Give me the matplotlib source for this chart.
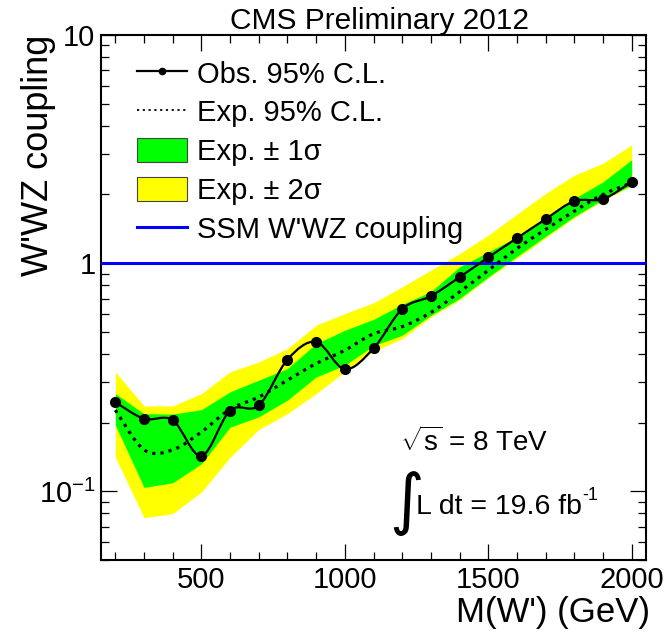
import numpy as np
import matplotlib
matplotlib.use('Agg')
import matplotlib.pyplot as plt
from matplotlib.path import Path
from matplotlib.patches import PathPatch, Patch
from matplotlib.lines import Line2D
from matplotlib.ticker import FixedLocator, FixedFormatter, MultipleLocator, LogLocator, NullFormatter

plt.rcParams['font.family'] = ['Liberation Sans', 'DejaVu Sans']
plt.rcParams['mathtext.fontset'] = 'custom'
plt.rcParams['mathtext.rm'] = 'Liberation Sans'
plt.rcParams['mathtext.it'] = 'Liberation Sans'
plt.rcParams['mathtext.sf'] = 'Liberation Sans'

# ---------------- data ----------------
mass = [200, 300, 400, 500, 600, 700, 800, 900, 1000, 1100,
        1200, 1300, 1400, 1500, 1600, 1700, 1800, 1900, 2000]
obs = [0.246, 0.208, 0.205, 0.143, 0.226, 0.238, 0.378, 0.452, 0.343, 0.423,
       0.630, 0.717, 0.868, 1.06, 1.287, 1.56, 1.87, 1.91, 2.27]
exp_med = [0.227, 0.152, 0.152, 0.182, 0.229, 0.259, 0.307, 0.363, 0.415, 0.490,
           0.527, 0.608, 0.748, 0.930, 1.16, 1.405, 1.69, 2.00, 2.25]
exp_m1 = [0.195, 0.104, 0.109, 0.132, 0.191, 0.212, 0.251, 0.317, 0.357, 0.435,
          0.483, 0.590, 0.700, 0.870, 1.07, 1.31, 1.60, 1.90, 2.20]
exp_p1 = [0.268, 0.219, 0.218, 0.228, 0.273, 0.307, 0.345, 0.444, 0.508, 0.567,
          0.660, 0.750, 0.963, 1.12, 1.30, 1.57, 1.92, 2.27, 2.84]
exp_m2 = [0.141, 0.0766, 0.0798, 0.0993, 0.141, 0.1865, 0.219, 0.268, 0.334, 0.410,
          0.467, 0.580, 0.690, 0.860, 1.05, 1.29, 1.58, 1.88, 2.18]
exp_p2 = [0.334, 0.2367, 0.2367, 0.268, 0.334, 0.369, 0.422, 0.535, 0.601, 0.670,
          0.787, 0.932, 1.10, 1.327, 1.64, 2.02, 2.43, 2.74, 3.30]
ssm_coupling = 1.0

title = 'CMS Preliminary 2012'
xlabel = "M(W') (GeV)"
ylabel = "W'WZ coupling"
legend_labels = ['Obs. 95% C.L.', 'Exp. 95% C.L.', 'Exp. ± 1σ', 'Exp. ± 2σ', "SSM W'WZ coupling"]
ytick_vals = [0.1, 1, 10]
ytick_labels = [r'$\mathregular{10^{-1}}$', '1', '10']


def smooth_path(x, y):
    """Catmull-Rom curve through points (x, log y) drawn as cubic Bezier segments."""
    x = np.asarray(x, float)
    ly = np.log10(np.asarray(y, float))
    P = np.column_stack([x, ly])
    Pe = np.vstack([P[0], P, P[-1]])
    verts = [P[0]]
    codes = [Path.MOVETO]
    for i in range(len(P) - 1):
        p0, p1, p2, p3 = Pe[i], Pe[i + 1], Pe[i + 2], Pe[i + 3]
        c1 = p1 + (p2 - p0) / 6.0
        c2 = p2 - (p3 - p1) / 6.0
        verts += [c1, c2, p2]
        codes += [Path.CURVE4] * 3
    verts = np.array(verts)
    verts[:, 1] = 10 ** verts[:, 1]
    return Path(verts, codes)


W, H = 665, 635
fig = plt.figure(figsize=(W / 100, H / 100), dpi=100)
ax = fig.add_axes([101 / W, 1 - 560 / H, 545 / W, 525 / H])
ax.set_yscale('log')
ax.set_xlim(150, 2050)
ax.set_ylim(0.05, 10)

ax.fill_between(mass, exp_m2, exp_p2, color='#ffff00', linewidth=0, zorder=1)
ax.fill_between(mass, exp_m1, exp_p1, color='#00ff00', linewidth=0, zorder=2)
ax.axhline(ssm_coupling, color='#0000ff', lw=2.2, zorder=3)

ax.add_patch(PathPatch(smooth_path(mass, exp_med), fill=False, edgecolor='black',
                       lw=2.3, linestyle=(0, (1.0, 1.6)), zorder=4))
ax.add_patch(PathPatch(smooth_path(mass, obs), fill=False, edgecolor='black',
                       lw=1.6, zorder=5))
ax.plot(mass, obs, 'o', color='black', ms=7, zorder=6)

# ticks
ax.xaxis.set_major_locator(MultipleLocator(500))
ax.xaxis.set_minor_locator(MultipleLocator(100))
ax.yaxis.set_major_locator(FixedLocator(ytick_vals))
ax.yaxis.set_major_formatter(FixedFormatter(ytick_labels))
ax.yaxis.set_minor_locator(LogLocator(base=10, subs=np.arange(2, 10)))
ax.yaxis.set_minor_formatter(NullFormatter())
ax.tick_params(which='both', direction='in', top=True, right=True, width=0.9)
ax.tick_params(which='major', length=11.5, labelsize=21)
ax.tick_params(which='minor', length=5.5)
ax.tick_params(axis='x', pad=4)
ax.tick_params(axis='y', pad=4)
for s in ax.spines.values():
    s.set_linewidth(1.5)

ax.set_xlabel(xlabel, fontsize=25, ha='right', va='center')
ax.xaxis.set_label_coords(1.008, -0.1)
ax.set_ylabel(ylabel, fontsize=26, ha='right', va='bottom')
ax.yaxis.set_label_coords(-0.082, 1.0)

fig.text(380 / W, 1 - 29 / H, title, ha='center', va='baseline', fontsize=21.5)

handles = [
    Line2D([], [], color='black', lw=1.6, marker='o', ms=4.5),
    Line2D([], [], color='black', lw=1.3, linestyle=(0, (1.2, 2.0))),
    Patch(facecolor='#00ff00', edgecolor='#444444', lw=0.8),
    Patch(facecolor='#ffff00', edgecolor='#444444', lw=0.8),
    Line2D([], [], color='#0000ff', lw=2.2),
]
leg = ax.legend(handles, legend_labels, loc='upper left', bbox_to_anchor=(0.066, 0.952),
                fontsize=21, frameon=False, handlelength=1.7, handleheight=0.92,
                handletextpad=0.35, labelspacing=0.36, borderaxespad=0, borderpad=0)

fig.text(400 / W, 1 - 451 / H, r'$\sqrt{s}$ = 8 TeV', ha='left', va='baseline', fontsize=20)
fig.text(389 / W, 1 - 536 / H, '∫', ha='left', va='bottom', fontsize=48, family='DejaVu Sans')
lumi = fig.text(416 / W, 1 - 514 / H, 'L dt = 19.6 fb', ha='left', va='baseline', fontsize=20.5)
ax.annotate('-1', xy=(1.0, 0.93), xycoords=lumi, ha='left', va='center', fontsize=13)

fig.savefig('out.png', dpi=100)
